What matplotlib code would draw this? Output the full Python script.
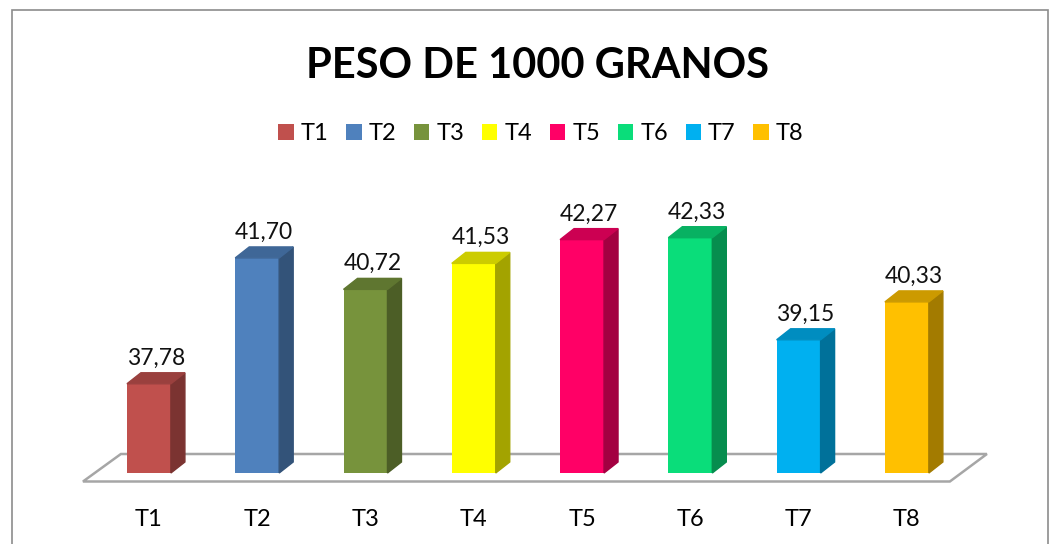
import numpy as np
import matplotlib.pyplot as plt
from matplotlib.patches import Polygon, Rectangle
from matplotlib.colors import to_rgb

categories = ['T1', 'T2', 'T3', 'T4', 'T5', 'T6', 'T7', 'T8']
values = [37.78, 41.70, 40.72, 41.53, 42.27, 42.33, 39.15, 40.33]
colors = ['#C0504D', '#4F81BD', '#77933C', '#FFFF00', '#FF0066', '#0ADD7A', '#00B0F0', '#FFC000']

base = 35.0
W, H = 1053, 544
px_per_unit = 32.1
bar_w = 0.406
dx, dy = 14 / 108.3, 11 / px_per_unit   # depth of the 3d faces

plt.rcParams['font.family'] = ['Lato', 'DejaVu Sans']

fig = plt.figure(figsize=(W / 100, H / 100), dpi=100)
fig.patches.append(Rectangle((12 / W, -0.05), (1048 - 12) / W, 1.05 - 10 / H,
                             transform=fig.transFigure, fill=False,
                             edgecolor='#8c8c8c', lw=1.2))

ax = fig.add_axes([40 / W, (H - 473) / H, (1013 - 40) / W, 300 / H])
ax.set_xlim(-1.006, 7.98)
ax.set_ylim(base, base + 300 / px_per_unit)
for s in ax.spines.values():
    s.set_visible(False)
ax.set_yticks([])

x = np.arange(len(categories))

def shade(c, f):
    return tuple(np.array(to_rgb(c)) * f)

# floor
n = len(categories)
fl = [(-0.609, base - 8.5 / px_per_unit), (n - 1 + 0.397, base - 8.5 / px_per_unit),
      (n - 1 + 0.739, base + 19 / px_per_unit), (-0.259, base + 19 / px_per_unit)]
ax.add_patch(Polygon(fl, closed=True, fill=False, edgecolor='#a6a6a6', lw=1.8,
                     clip_on=False, zorder=1))

bars = ax.bar(x, np.array(values) - base, bottom=base, width=bar_w,
              color=colors, zorder=3, label=None)

for xi, v, c in zip(x, values, colors):
    r = xi + bar_w / 2
    l = xi - bar_w / 2
    ax.add_patch(Polygon([(r, base), (r + dx, base + dy), (r + dx, v + dy), (r, v)],
                         closed=True, color=shade(c, 0.64), zorder=3, clip_on=False))
    ax.add_patch(Polygon([(l, v), (r, v), (r + dx, v + dy), (l + dx, v + dy)],
                         closed=True, color=shade(c, 0.8), zorder=3, clip_on=False))
    ax.annotate(f"{v:.2f}".replace('.', ','), (xi + dx / 2, v + dy),
                xytext=(0, 3), textcoords='offset points', ha='center', va='bottom',
                fontsize=16.5, color='#111111', annotation_clip=False)

ax.set_xticks(x)
ax.set_xticklabels(categories, fontsize=17)
ax.tick_params(axis='x', length=0, pad=26)

fig.text(537 / W, 1 - 66 / H, 'PESO DE 1000 GRANOS', ha='center', va='center',
         fontsize=30, fontweight='bold', color='black')

fig.legend(bars, categories, loc='center', bbox_to_anchor=(541 / W, 1 - 134 / H),
           ncol=8, frameon=False, fontsize=17, handlelength=0.65, handleheight=0.65,
           handletextpad=0.3, columnspacing=0.75)

fig.savefig('out.png', dpi=100)
